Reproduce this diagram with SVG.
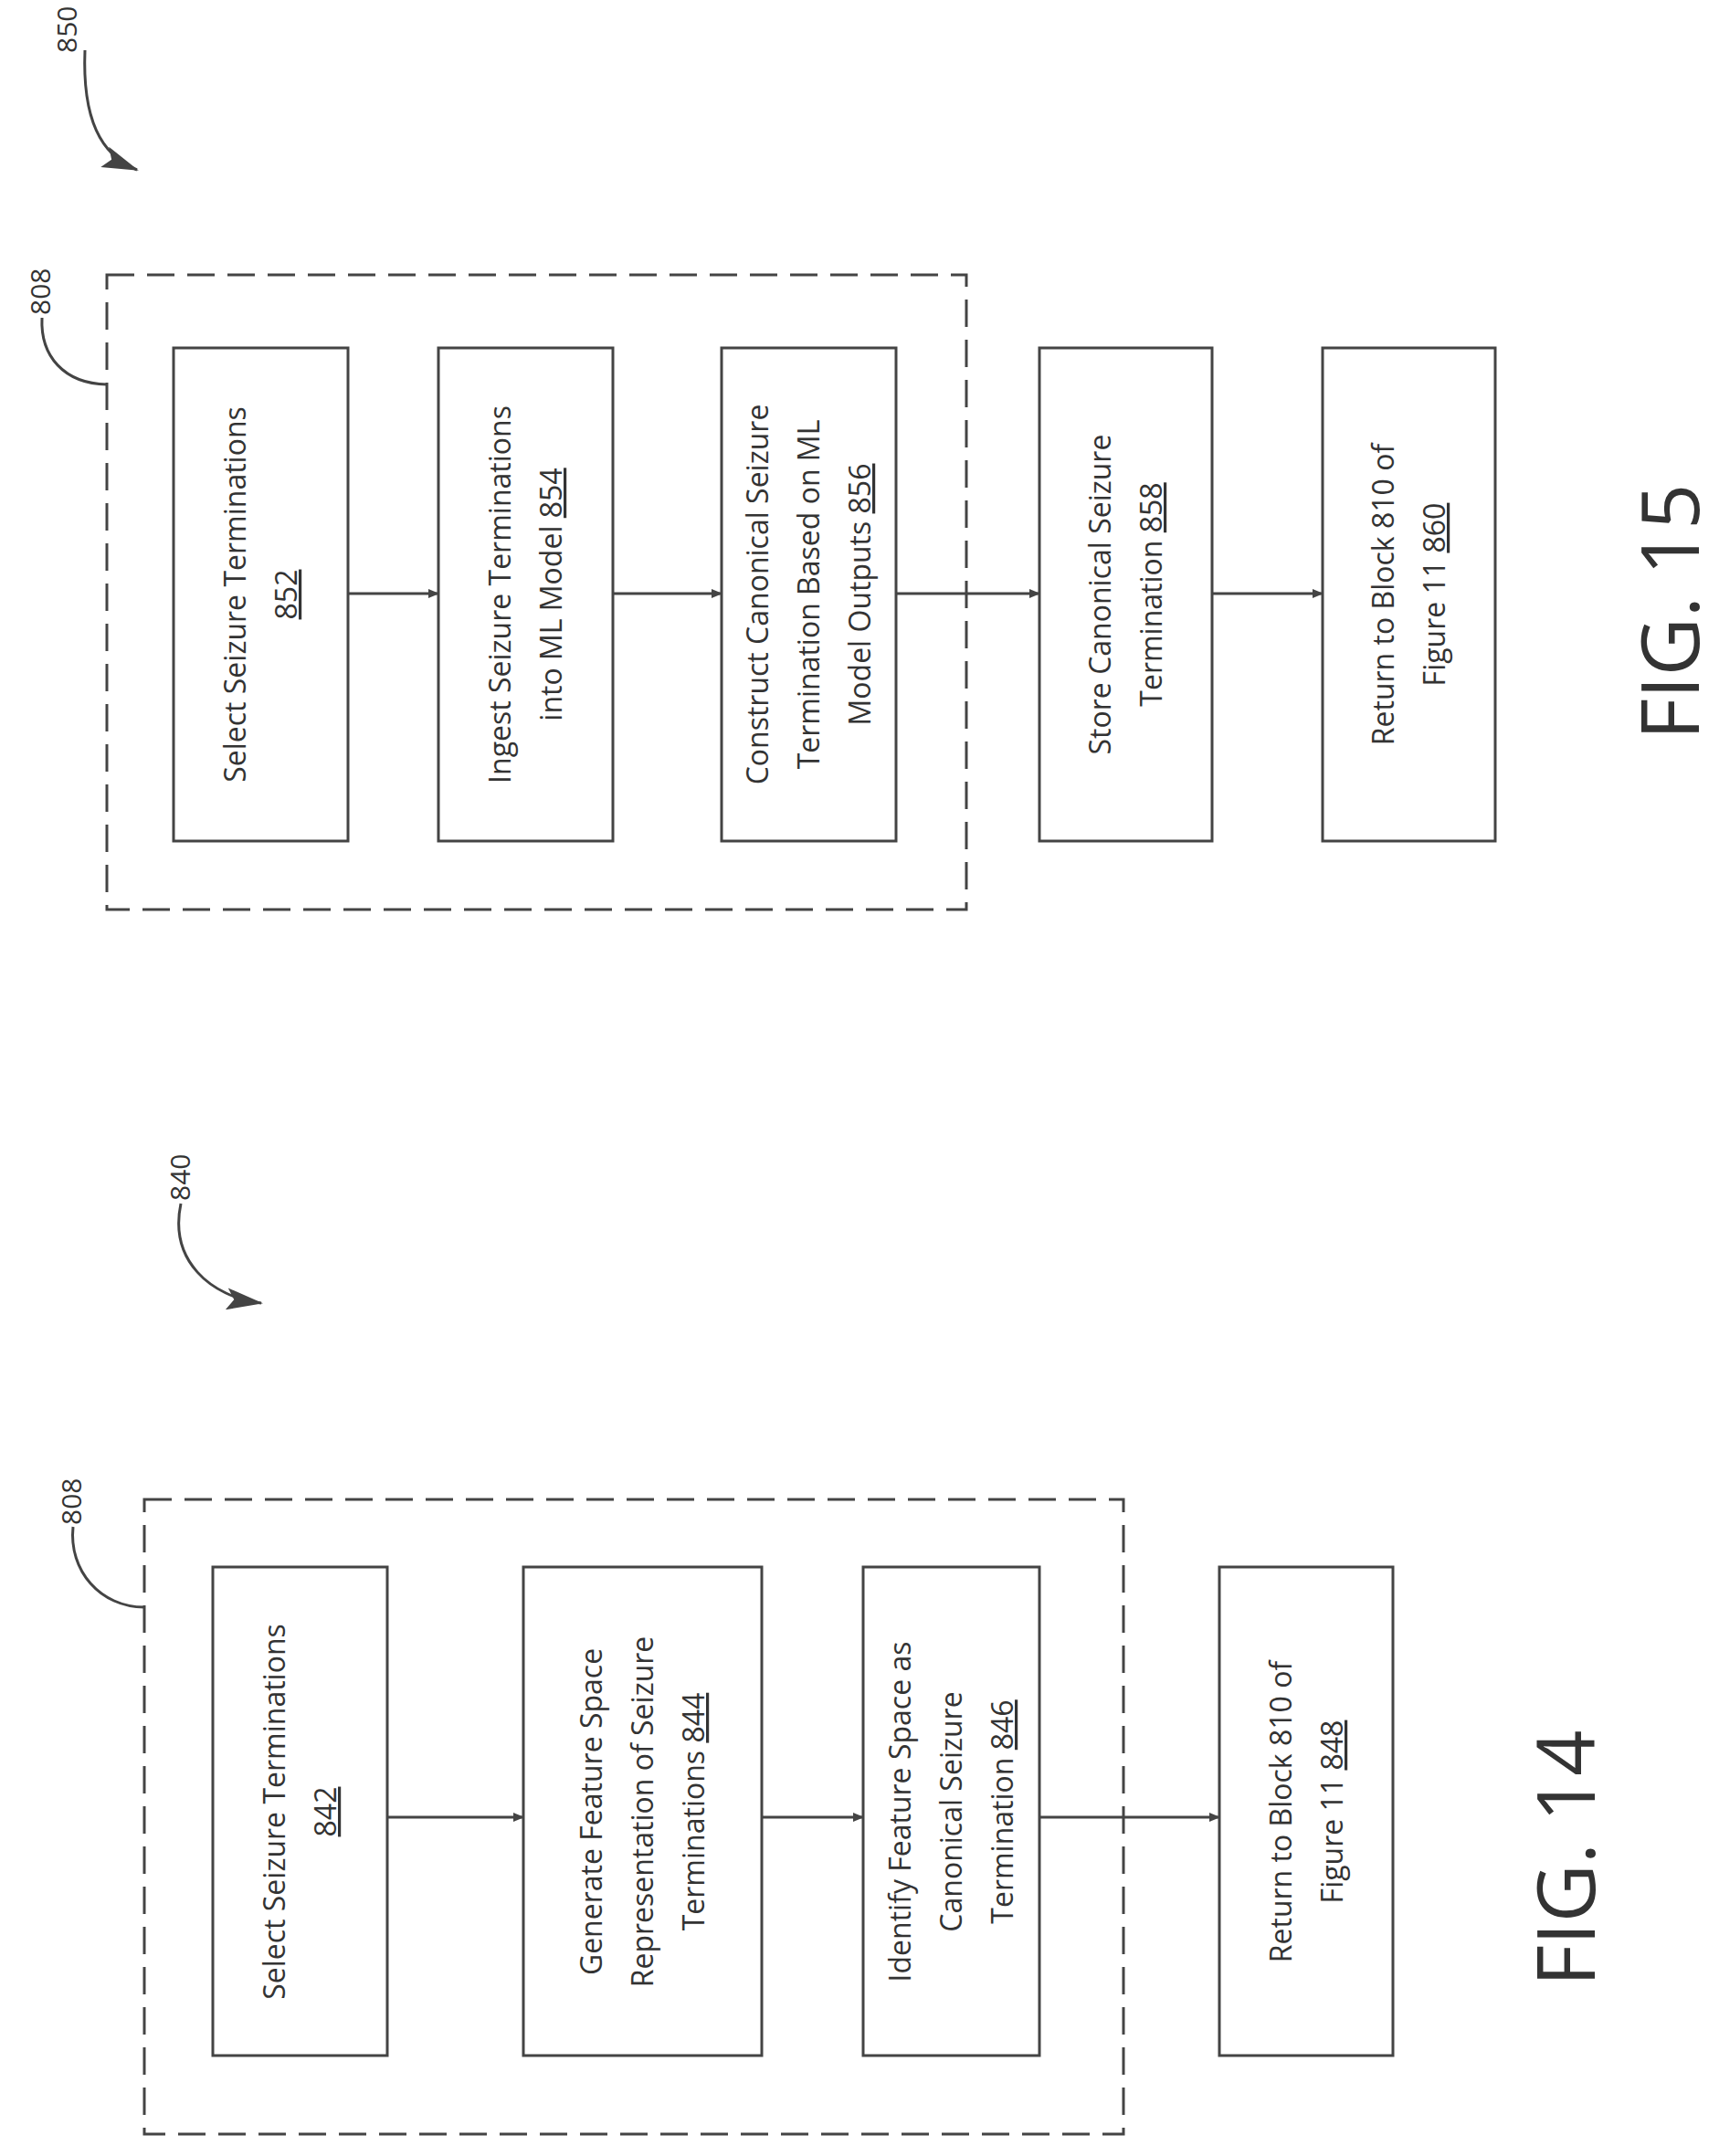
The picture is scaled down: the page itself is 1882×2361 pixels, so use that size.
<svg xmlns="http://www.w3.org/2000/svg" width="1882" height="2361" viewBox="0 0 1882 2361">
<style>
.b{fill:#fff;stroke:#444;stroke-width:3}
.d{fill:none;stroke:#444;stroke-width:3;stroke-dasharray:30 14}
.c{fill:none;stroke:#444;stroke-width:3}
text{font-family:"Open Sans","Liberation Sans",sans-serif;font-size:32px;fill:#333;text-anchor:middle}
.f{font-size:88px}
.n{font-size:30px;text-anchor:start}
.u{text-decoration:underline}
</style>
<defs>
<marker id="a" markerWidth="12" markerHeight="10" refX="11" refY="5" orient="auto" markerUnits="userSpaceOnUse"><path d="M0,0L12,5L0,10z" fill="#444"/></marker>
<marker id="A" markerWidth="40" markerHeight="24" refX="38" refY="12" orient="auto" markerUnits="userSpaceOnUse"><path d="M0,0L40,12L0,24L8,12z" fill="#444"/></marker>
</defs>
<g id="labels">
<text class="n" transform="translate(84,58) rotate(-90)">850</text>
<path class="c" d="M93,55 C90,130 110,170 150,186" marker-end="url(#A)"/>
<text class="n" transform="translate(55,345) rotate(-90)">808</text>
<path class="c" d="M46,348 C44,390 70,420 117,421"/>
<text class="n" transform="translate(208,1315) rotate(-90)">840</text>
<path class="c" d="M198,1318 C185,1380 230,1420 286,1427" marker-end="url(#A)"/>
<text class="n" transform="translate(89,1670) rotate(-90)">808</text>
<path class="c" d="M80,1672 C75,1720 110,1760 158,1760"/>
</g>
<g id="group15"><rect class="d" x="117" y="301" width="941" height="695"/></g>
<g id="group14"><rect class="d" x="158" y="1642" width="1072" height="695"/></g>
<g id="n852"><rect class="b" x="190" y="381" width="191" height="540"/><text transform="translate(285,651) rotate(-90)"><tspan x="0" y="-16">Select Seizure Terminations</tspan><tspan x="0" y="40" class="u">852</tspan></text></g>
<g id="n854"><rect class="b" x="480" y="381" width="191" height="540"/><text transform="translate(575,651) rotate(-90)"><tspan x="0" y="-16">Ingest Seizure Terminations</tspan><tspan x="0" y="40">into ML Model  <tspan class="u">854</tspan></tspan></text></g>
<g id="n856"><rect class="b" x="790" y="381" width="191" height="540"/><text transform="translate(885,651) rotate(-90)"><tspan x="0" y="-44">Construct Canonical Seizure</tspan><tspan x="0" y="12">Termination Based on ML</tspan><tspan x="0" y="68">Model Outputs  <tspan class="u">856</tspan></tspan></text></g>
<g id="n858"><rect class="b" x="1138" y="381" width="189" height="540"/><text transform="translate(1232,651) rotate(-90)"><tspan x="0" y="-16">Store Canonical Seizure</tspan><tspan x="0" y="40">Termination <tspan class="u">858</tspan></tspan></text></g>
<g id="n860"><rect class="b" x="1448" y="381" width="189" height="540"/><text transform="translate(1542,651) rotate(-90)"><tspan x="0" y="-16">Return to Block 810 of</tspan><tspan x="0" y="40">Figure 11 <tspan class="u">860</tspan></tspan></text></g>
<g id="n842"><rect class="b" x="233" y="1716" width="191" height="535"/><text transform="translate(328,1984) rotate(-90)"><tspan x="0" y="-16">Select Seizure Terminations</tspan><tspan x="0" y="40" class="u">842</tspan></text></g>
<g id="n844"><rect class="b" x="573" y="1716" width="261" height="535"/><text transform="translate(703,1984) rotate(-90)"><tspan x="0" y="-44">Generate Feature Space</tspan><tspan x="0" y="12">Representation of Seizure</tspan><tspan x="0" y="68">Terminations  <tspan class="u">844</tspan></tspan></text></g>
<g id="n846"><rect class="b" x="945" y="1716" width="193" height="535"/><text transform="translate(1041,1984) rotate(-90)"><tspan x="0" y="-44">Identify Feature Space as</tspan><tspan x="0" y="12">Canonical Seizure</tspan><tspan x="0" y="68">Termination <tspan class="u">846</tspan></tspan></text></g>
<g id="n848"><rect class="b" x="1335" y="1716" width="190" height="535"/><text transform="translate(1430,1984) rotate(-90)"><tspan x="0" y="-16">Return to Block 810 of</tspan><tspan x="0" y="40">Figure 11 <tspan class="u">848</tspan></tspan></text></g>
<g id="connectors">
<path class="c" d="M381,650H480" marker-end="url(#a)"/>
<path class="c" d="M671,650H790" marker-end="url(#a)"/>
<path class="c" d="M981,650H1138" marker-end="url(#a)"/>
<path class="c" d="M1327,650H1448" marker-end="url(#a)"/>
<path class="c" d="M424,1990H573" marker-end="url(#a)"/>
<path class="c" d="M834,1990H945" marker-end="url(#a)"/>
<path class="c" d="M1138,1990H1335" marker-end="url(#a)"/>
</g>
<text class="f" transform="translate(1860,670) rotate(-90)">FIG. 15</text>
<text class="f" transform="translate(1746,2035) rotate(-90)">FIG. 14</text>
</svg>
